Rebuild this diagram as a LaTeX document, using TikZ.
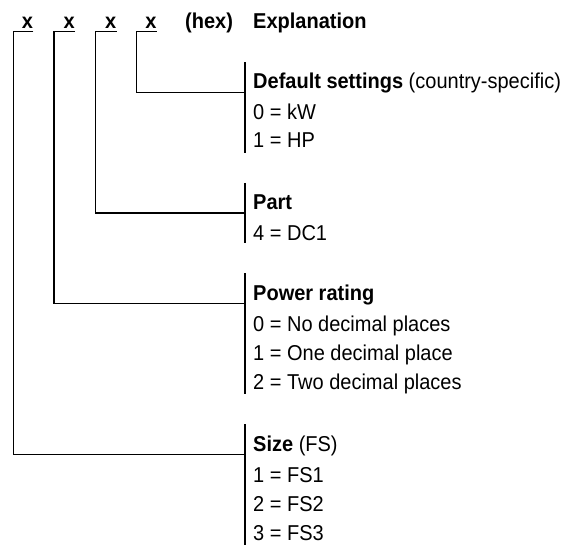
\documentclass[tikz,border=0pt]{standalone}
\usepackage{fontspec}
\setmainfont[FakeStretch=0.93]{Liberation Sans}
\begin{document}
\begin{tikzpicture}[x=1pt,y=-1pt,
  txt/.style={anchor=base west,inner sep=0pt,font=\fontsize{21.5}{25}\selectfont},
  hdr/.style={anchor=base east,inner sep=0pt,font=\fontsize{21.5}{25}\selectfont\bfseries},
  ln/.style={line width=1.1pt,line cap=butt}]
\useasboundingbox (0,0) rectangle (561,546);
% header
\node[hdr] (x1) at (33.3,28) {x};
\node[hdr] (x2) at (75,28) {x};
\node[hdr] (x3) at (116.5,28) {x};
\node[hdr] (x4) at (156.7,28) {x};
\node[txt,font=\fontsize{21.5}{25}\selectfont\bfseries] (hex) at (185,28) {(hex)};
\node[txt,font=\fontsize{21.5}{25}\selectfont\bfseries] (expl) at (253,28) {Explanation};
% column coordinates
\coordinate (u1a) at (13.3,31.7);  \coordinate (u1b) at (33.3,31.7);
\coordinate (u2a) at (54,31.7);    \coordinate (u2b) at (75,31.7);
\coordinate (u3a) at (95.7,31.7);  \coordinate (u3b) at (116.5,31.7);
\coordinate (u4a) at (136.7,31.7); \coordinate (u4b) at (156.7,31.7);
% bracket coordinates
\coordinate (d1) at (245,62);    \coordinate (d2) at (245,152.6);  \coordinate (dj) at (245,92.2);
\coordinate (p1) at (245,182.8); \coordinate (p2) at (245,243.2);  \coordinate (pj) at (245,213);
\coordinate (w1) at (245,273.4); \coordinate (w2) at (245,394.2);  \coordinate (wj) at (245,303.6);
\coordinate (s1) at (245,424.4); \coordinate (s2) at (245,545.2);  \coordinate (sj) at (245,454.6);
% connectors
\draw[ln] (u1b) -- (u1a) |- (sj);
\draw[ln] (u2b) -- (u2a) |- (wj);
\draw[ln] (u3b) -- (u3a) |- (pj);
\draw[ln] (u4b) -- (u4a) |- (dj);
\draw[ln] (d1) -- (d2);
\draw[ln] (p1) -- (p2);
\draw[ln] (w1) -- (w2);
\draw[ln] (s1) -- (s2);
% texts
\node[txt] (dh) at (253,88.5) {\textbf{Default settings} (country-specific)};
\node[txt] (d0) at (253,119.5) {0 = kW};
\node[txt] (d1t) at (253,147.5) {1 = HP};
\node[txt] (ph) at (253,209.8) {\textbf{Part}};
\node[txt] (p4) at (253,240) {4 = DC1};
\node[txt] (wh) at (253,300.8) {\textbf{Power rating}};
\node[txt] (w0) at (253,331) {0 = No decimal places};
\node[txt] (w1t) at (253,360) {1 = One decimal place};
\node[txt] (w2t) at (253,389) {2 = Two decimal places};
\node[txt] (sh) at (253,451.6) {\textbf{Size} (FS)};
\node[txt] (s1t) at (253,482.5) {1 = FS1};
\node[txt] (s2t) at (253,511.5) {2 = FS2};
\node[txt] (s3t) at (253,540.5) {3 = FS3};
\end{tikzpicture}
\end{document}
